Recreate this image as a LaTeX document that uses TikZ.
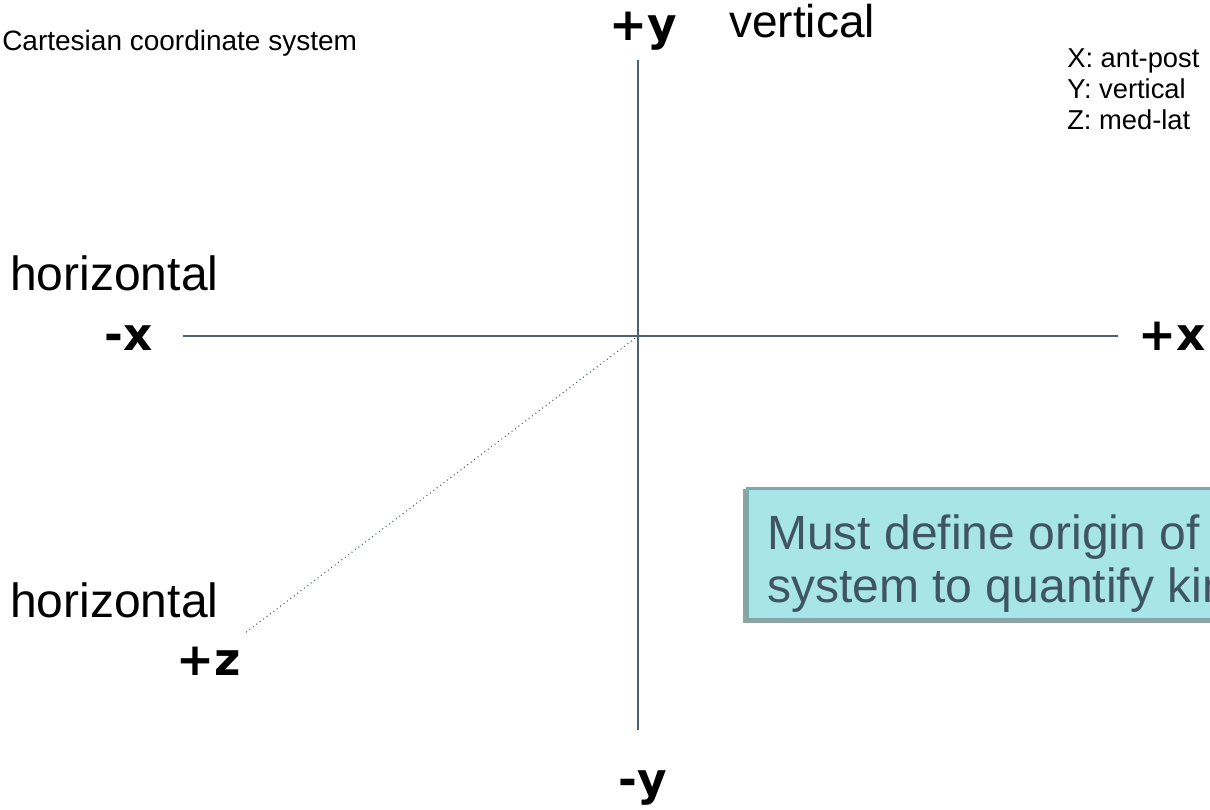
\documentclass[tikz,border=0pt]{standalone}
\usepackage{fontspec}
\setmainfont{Liberation Sans}
\newfontfamily\axisfont{DejaVu Sans}
\usepackage{tikz}
\usetikzlibrary{positioning}
\definecolor{AxisSlate}{HTML}{4E6170}
\definecolor{NoteFill}{HTML}{A8E5E8}
\definecolor{NoteEdge}{HTML}{7FA9A9}
\definecolor{NoteShade}{HTML}{8FA3A4}
\definecolor{NoteText}{HTML}{3F5565}

\begin{document}
\begin{tikzpicture}[x=0.75pt, y=-0.75pt,
    axis/.style={AxisSlate, line width=1.8pt},
    depth/.style={AxisSlate, line width=1.1pt, line cap=round, dash pattern=on 0pt off 3.2pt},
    axislabel/.style={font=\axisfont\bfseries\fontsize{34}{36}\selectfont, anchor=base west, inner sep=0pt},
    planelabel/.style={font=\fontsize{#1}{#1}\selectfont, anchor=base west, inner sep=0pt},
    legendline/.style={font=\fontsize{20.5}{24}\selectfont, anchor=base west, inner sep=0pt},
    notebox/.style={fill=NoteFill, draw=NoteEdge, line width=2pt, anchor=north west, inner sep=0pt},
    notetext/.style={NoteText, font=\fontsize{36}{40}\selectfont, anchor=base west, inner sep=0pt}]
    \useasboundingbox (0,0) rectangle (1210,810);
    \clip (0,0) rectangle (1210,810);

    % Title and legend
    \node[planelabel=21] (title) at (2,50) {Cartesian coordinate system};
    \node[legendline] (legx) at (1067,67) {X: ant-post};
    \node[legendline] (legy) at (1067,98) {Y: vertical};
    \node[legendline] (legz) at (1067,129) {Z: med-lat};

    % Axes
    \coordinate (O) at (638,336);
    \coordinate (xneg) at (183,336);
    \coordinate (xpos) at (1118,336);
    \coordinate (ypos) at (638,60);
    \coordinate (yneg) at (638,730);
    \coordinate (zpos) at (245,633);
    \draw[axis] (xneg) -- (xpos);
    \draw[axis] (ypos) -- (yneg);
    \draw[depth] (O) -- (zpos);

    % Axis labels
    \node[axislabel] (ylab+) at (609,40) {+y};
    \node[axislabel] (ylab-) at (618,795) {-y};
    \node[axislabel] (xlab-) at (104,350) {-x};
    \node[axislabel] (xlab+) at (1138,350) {+x};
    \node[axislabel] (zlab+) at (176,675) {+z};
    \node[planelabel=34.5] (vert) at (729,37) {vertical};
    \node[planelabel=36] (horx) at (10,290) {horizontal};
    \node[planelabel=36] (horz) at (10,617) {horizontal};

    % Note box
    \fill[NoteShade] (743,489) rectangle (1230,623);
    \node[notebox, minimum width=370pt, minimum height=98pt] (note) at (746,487) {};
    \node[notetext] (note1) at (767,549) {Must define origin of};
    \node[notetext] (note2) at (767,602) {system to quantify kinematics};
\end{tikzpicture}
\end{document}
